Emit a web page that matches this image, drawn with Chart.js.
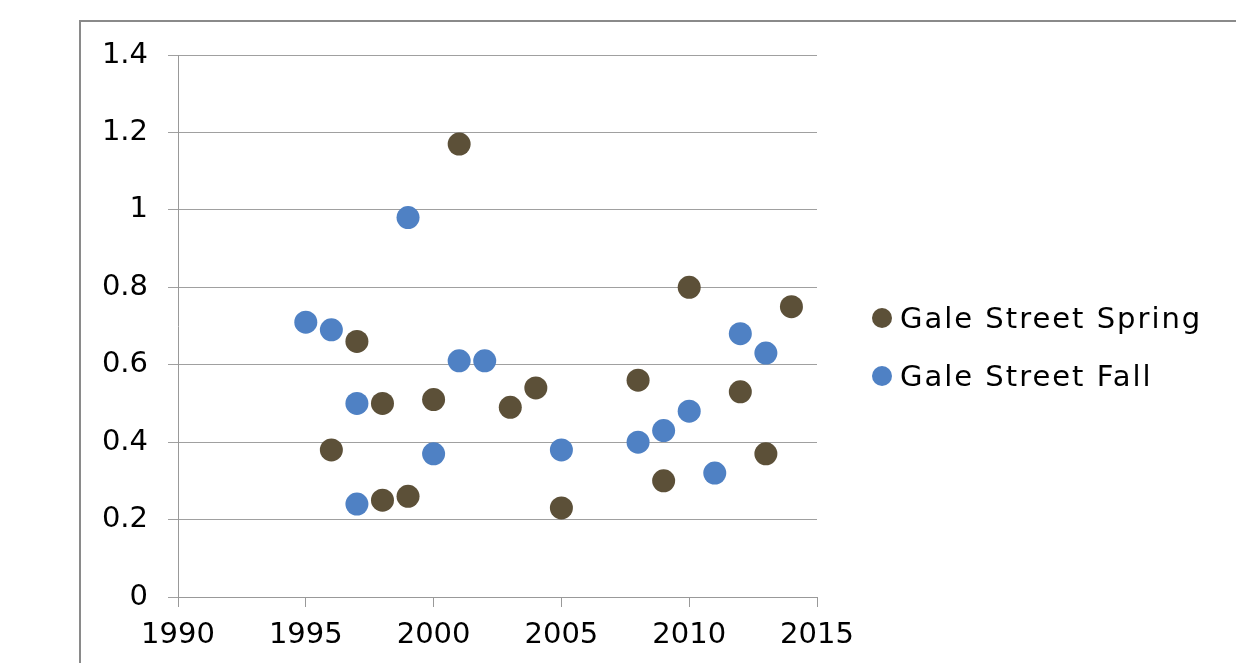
<!DOCTYPE html>
<html>
<head>
<meta charset="utf-8">
<script src="https://cdn.jsdelivr.net/npm/chart.js@4"></script>
<style>
  html, body { margin: 0; padding: 0; background: #fff; }
  #wrap { position: relative; width: 1236px; height: 663px; overflow: hidden; }
  #frame { position: absolute; left: 79px; top: 20px; width: 2000px; height: 2000px;
           border-left: 2px solid #8a8a8a; border-top: 2px solid #8a8a8a; }
  #myChart { position: absolute; left: 0; top: 0; }
</style>
</head>
<body>
<div id="wrap">
  <div id="frame"></div>
  <canvas id="myChart" width="1236" height="663"></canvas>
</div>
<script>
//---------------------------
// GALE STREET SPRING / FALL
//---------------------------

var seriesNames = ['Gale Street Spring', 'Gale Street Fall'];

var springYears = [1996, 1997, 1998, 1998, 1999, 2000, 2001, 2003, 2004, 2005, 2008, 2009, 2010, 2012, 2013, 2014];
var springValues = [0.38, 0.66, 0.50, 0.25, 0.26, 0.51, 1.17, 0.49, 0.54, 0.23, 0.56, 0.30, 0.80, 0.53, 0.37, 0.75];

var fallYears = [1995, 1996, 1997, 1997, 1999, 2000, 2001, 2002, 2005, 2008, 2009, 2010, 2011, 2012, 2013];
var fallValues = [0.71, 0.69, 0.50, 0.24, 0.98, 0.37, 0.61, 0.61, 0.38, 0.40, 0.43, 0.48, 0.32, 0.68, 0.63];

var xTicks = [1990, 1995, 2000, 2005, 2010, 2015];
var yTicks = [0, 0.2, 0.4, 0.6, 0.8, 1, 1.2, 1.4];

function toPoints(xs, ys) {
    var pts = [];
    for (var i = 0; i < xs.length; i++) pts.push({ x: xs[i], y: ys[i] });
    return pts;
}

var FONT = 'DejaVu Sans, Verdana, sans-serif';

// legend drawn on the right, next to the plot
const sideLegend = {
    id: 'sideLegend',
    afterDraw(chart) {
        var c = chart.ctx;
        var rows = [318, 376];
        c.save();
        c.font = '29px ' + FONT;
        c.letterSpacing = '2px';
        c.textBaseline = 'alphabetic';
        chart.data.datasets.forEach(function (ds, i) {
            c.fillStyle = ds.backgroundColor;
            c.beginPath();
            c.arc(882, rows[i], 10, 0, Math.PI * 2);
            c.fill();
            c.fillStyle = '#000';
            c.fillText(ds.label, 900, rows[i] + 10);
        });
        c.restore();
    }
};

const ctx = document.getElementById('myChart');

new Chart(ctx, {
    type: 'scatter',
    data: {
        datasets: [{
            label: seriesNames[0],
            data: toPoints(springYears, springValues),
            backgroundColor: '#5c5038',
            borderColor: '#5c5038',
            pointRadius: 11.5,
            borderWidth: 0
        }, {
            label: seriesNames[1],
            data: toPoints(fallYears, fallValues),
            backgroundColor: '#4f81c4',
            borderColor: '#4f81c4',
            pointRadius: 11.5,
            borderWidth: 0
        }]
    },
    options: {
        responsive: false,
        animation: false,
        layout: { padding: { top: 55, right: 419, bottom: 0, left: 0 } },
        plugins: {
            legend: { display: false },
            tooltip: { enabled: false }
        },
        scales: {
            x: {
                type: 'linear',
                min: 1990,
                max: 2015,
                afterBuildTicks: function (scale) {
                    scale.ticks = xTicks.map(function (v) { return { value: v }; });
                },
                afterFit: function (scale) { scale.height = 66; },
                grid: { drawOnChartArea: false, drawTicks: true, tickLength: 10, color: '#999' },
                border: { color: '#999', width: 1 },
                ticks: {
                    color: '#000',
                    font: { family: FONT, size: 29 },
                    padding: 11,
                    maxRotation: 0,
                    callback: function (v) { return String(v); }
                }
            },
            y: {
                min: 0,
                max: 1.4,
                afterBuildTicks: function (scale) {
                    scale.ticks = yTicks.map(function (v) { return { value: v }; });
                },
                afterFit: function (scale) { scale.width = 178; },
                grid: { color: '#a0a0a0', tickLength: 10 },
                border: { color: '#999', width: 1 },
                ticks: {
                    color: '#000',
                    font: { family: FONT, size: 29 },
                    padding: 20,
                    callback: function (v) { return String(Math.round(v * 10) / 10); }
                }
            }
        }
    },
    plugins: [sideLegend]
});
</script>
</body>
</html>
